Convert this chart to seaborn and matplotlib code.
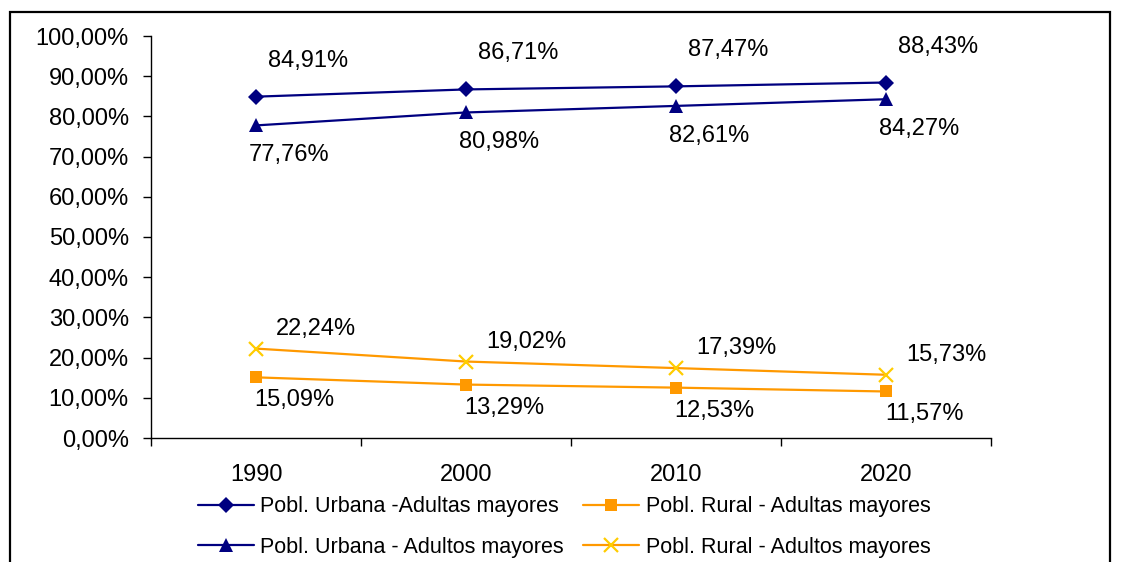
import numpy as np
import pandas as pd
import seaborn as sns
import matplotlib.pyplot as plt
from matplotlib.patches import Rectangle
from matplotlib.ticker import FixedLocator

years = ["1990", "2000", "2010", "2020"]
urbana_adultas = [84.91, 86.71, 87.47, 88.43]
urbana_adultos = [77.76, 80.98, 82.61, 84.27]
rural_adultas = [15.09, 13.29, 12.53, 11.57]
rural_adultos = [22.24, 19.02, 17.39, 15.73]
y_ticks = [0, 10, 20, 30, 40, 50, 60, 70, 80, 90, 100]

sns.set_theme(style="white")
plt.rcParams['font.family'] = ['Liberation Sans', 'DejaVu Sans']
plt.rcParams['text.color'] = 'black'
plt.rcParams['xtick.color'] = 'black'
plt.rcParams['ytick.color'] = 'black'

fig = plt.figure(figsize=(11.22, 5.62), dpi=100)
ax = fig.add_axes([151 / 1122, 1 - 438 / 562, 840 / 1122, 402 / 562])

x = np.arange(len(years))

# (values, label, line colour, marker, marker colour, marker size, label offset in px)
series = [
    (urbana_adultas, "Pobl. Urbana -Adultas mayores", "#000080", "D", "#000080", 8, (52, 36)),
    (urbana_adultos, "Pobl. Urbana - Adultos mayores", "#000080", "^", "#000080", 10, (33, -30)),
    (rural_adultas, "Pobl. Rural - Adultas mayores", "#FF9900", "s", "#FF9900", 8, (38, -23)),
    (rural_adultos, "Pobl. Rural - Adultos mayores", "#FF9900", "x", "#FFCC00", 10, (60, 20)),
]

for vals, name, col, mk, mcol, ms, off in series:
    df = pd.DataFrame({"x": x, "y": vals})
    sns.lineplot(data=df, x="x", y="y", ax=ax, color=col, linewidth=1.6,
                 marker=mk, markersize=ms, markerfacecolor=mcol,
                 markeredgecolor=mcol, markeredgewidth=1.6 if mk == "x" else 0,
                 label=name)
    for xi, v in zip(x, vals):
        ax.annotate(f"{v:.2f}%".replace(".", ","), (xi, v),
                    xytext=(off[0] * 0.72, off[1] * 0.72), textcoords="offset points",
                    ha="center", va="center", fontsize=17, color="black")

ax.set_xlim(-0.5, len(years) - 0.5)
ax.set_ylim(0, 100)
ax.yaxis.set_major_locator(FixedLocator(y_ticks))
ax.set_yticklabels([f"{t:.2f}%".replace(".", ",") for t in y_ticks])

ax.set_xticks(np.arange(len(years) + 1) - 0.5)
ax.set_xticklabels([])
ax.set_xticks(x, minor=True)
ax.set_xticklabels(years, minor=True)
ax.tick_params(axis="x", which="major", direction="out", length=6, width=1, color="black")
ax.tick_params(axis="x", which="minor", length=0, pad=19, labelsize=17, labelcolor="black")
ax.tick_params(axis="y", direction="out", length=6, width=1, color="black", pad=10,
               labelsize=17, labelcolor="black")
ax.tick_params(left=True, bottom=True)
ax.set_xlabel("")
ax.set_ylabel("")

sns.despine(ax=ax)
for s in ["left", "bottom"]:
    ax.spines[s].set_color("black")
    ax.spines[s].set_linewidth(1)

handles, labels = ax.get_legend_handles_labels()
ax.legend_.remove()
leg = fig.legend(handles, labels, ncol=2, loc="center", bbox_to_anchor=(0.503, 1 - 527 / 562),
                 frameon=False, fontsize=15.5, handlelength=2.6, handletextpad=0.3,
                 columnspacing=0.9, labelspacing=0.9)
for t in leg.get_texts():
    t.set_color("black")

fig.patches.append(Rectangle((10 / 1122, -0.1), 1100 / 1122, 1.1 - 12 / 562,
                             transform=fig.transFigure, fill=False,
                             edgecolor="black", linewidth=1.6, clip_on=False))

fig.savefig("out.png", dpi=100)
